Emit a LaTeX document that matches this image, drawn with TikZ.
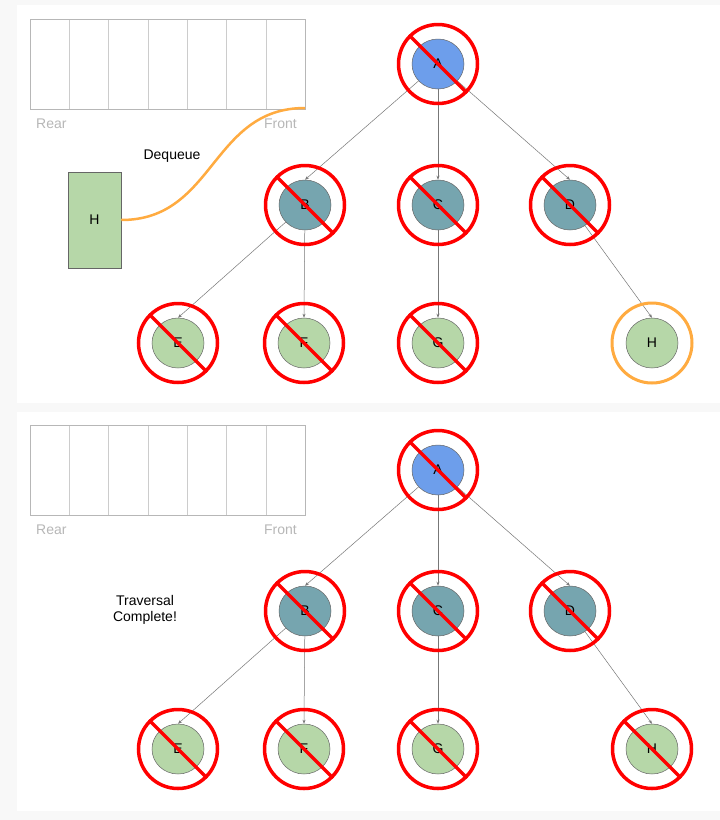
\documentclass[tikz,border=0pt]{standalone}
\usepackage{fontspec}
\setmainfont{Liberation Sans}
\usetikzlibrary{shapes.geometric,arrows.meta}
\definecolor{bg}{HTML}{F8F8F8}
\definecolor{rootblue}{HTML}{6D9EEB}
\definecolor{midteal}{HTML}{76A5AF}
\definecolor{leafgreen}{HTML}{B6D7A8}
\definecolor{nodeline}{HTML}{666666}
\definecolor{edgegray}{HTML}{777777}
\definecolor{visitred}{HTML}{FF0000}
\definecolor{orangec}{HTML}{FFAB40}
\definecolor{qline}{HTML}{B7B7B7}
\definecolor{qcell}{HTML}{CCCCCC}
\definecolor{qtext}{HTML}{B7B7B7}
\newcommand\visitmark[1]{%
  \draw[visited] (#1.center) circle[radius=39.5pt];
  \draw[visited] (#1.center) ++(-29,-29) -- ++(58,58);}
\begin{document}
\begin{tikzpicture}[x=1pt,y=-1pt,
  tnode/.style={ellipse,draw=nodeline,line width=0.5pt,minimum width=52pt,minimum height=50pt,inner sep=0pt,font=\fontsize{14}{16}\selectfont},
  root/.style={tnode,fill=rootblue},
  mid/.style={tnode,fill=midteal},
  leaf/.style={tnode,fill=leafgreen},
  edge/.style={draw=edgegray,line width=0.5pt,-{Stealth[length=4pt,width=3pt]}},
  visited/.style={draw=visitred,line width=3.5pt},
  qlabel/.style={text=qtext,font=\fontsize{14}{16}\selectfont,inner sep=0pt},
  msg/.style={font=\fontsize{14}{15.5}\selectfont,align=center,inner sep=0pt},
]
\useasboundingbox (0,0) rectangle (720,820);
\fill[bg] (0,0) rectangle (720,820);
\fill[white] (17,5) rectangle (720,403);
\fill[white] (17,412) rectangle (720,811);

\foreach \p/\oy in {1/0,2/406}{
  % queue
  \foreach \k in {1,...,6}{
    \draw[qcell,line width=0.6pt] ({30+\k*39.3},19+\oy) -- ({30+\k*39.3},109+\oy);
  }
  \draw[qline,line width=0.8pt] (30,19+\oy) rectangle (305,109+\oy);
  \node[qlabel,anchor=west] (rear\p) at (36,124+\oy) {Rear};
  \node[qlabel,anchor=east] (front\p) at (297,124+\oy) {Front};
  % tree
  \node[root] (A\p) at (438,64+\oy) {A};
  \node[mid] (B\p) at (305,205+\oy) {B};
  \node[mid] (C\p) at (438,205+\oy) {C};
  \node[mid] (D\p) at (570,205+\oy) {D};
  \node[leaf] (E\p) at (178,343+\oy) {E};
  \node[leaf] (F\p) at (304,343+\oy) {F};
  \node[leaf] (G\p) at (438,343+\oy) {G};
  \node[leaf] (H\p) at (652,343+\oy) {H};
  \draw[edge] (A\p) -- (B\p.north);
  \draw[edge] (A\p) -- (C\p.north);
  \draw[edge] (A\p) -- (D\p.north);
  \draw[edge] (B\p) -- (E\p.north);
  \draw[edge] (B\p) -- (F\p.north);
  \draw[edge] (C\p) -- (G\p.north);
  \draw[edge] (D\p) -- (H\p.north);
  \visitmark{A\p}
  \visitmark{B\p}
  \visitmark{C\p}
  \visitmark{D\p}
  \visitmark{E\p}
  \visitmark{F\p}
  \visitmark{G\p}
}
\visitmark{H2}
\draw[orangec,line width=3pt] (H1.center) circle[radius=40pt];

% dequeued element
\node[draw=nodeline,line width=0.5pt,fill=leafgreen,minimum width=53pt,minimum height=96pt,inner sep=0pt,font=\fontsize{14}{16}\selectfont] (Hq) at (94.5,220) {H};
\coordinate (qfront) at (305,108);
\draw[orangec,line width=2.5pt] (Hq.east) .. controls (215,220) and (211,108) .. (qfront);
\node[msg] (deq) at (172,156) {Dequeue};
\node[msg] (done) at (145,610) {Traversal\\Complete!};
\end{tikzpicture}
\end{document}
